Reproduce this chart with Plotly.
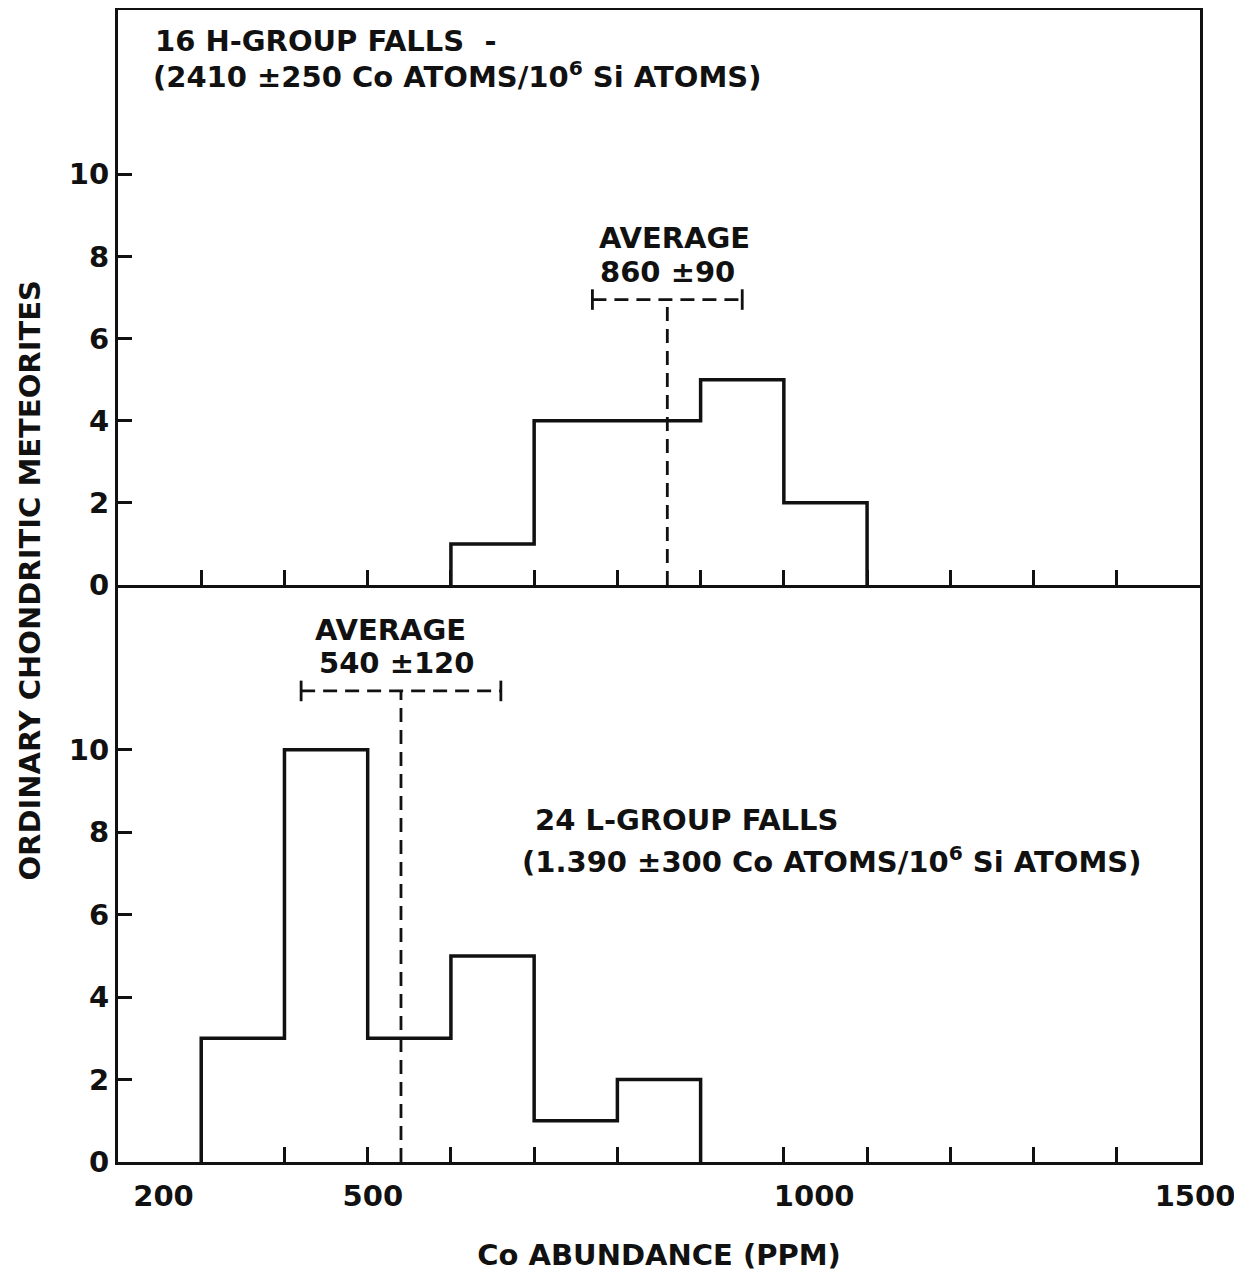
import plotly.graph_objects as go
from plotly.subplots import make_subplots

# ---- data ----
h_edges = [600, 700, 800, 900, 1000, 1100]
h_counts = [1, 4, 4, 5, 2]
l_edges = [300, 400, 500, 600, 700, 800, 900]
l_counts = [3, 10, 3, 5, 1, 2]

h_avg, h_err, h_avg_y = 860, 90, 6.95
l_avg, l_err, l_avg_y = 540, 120, 11.43

x_tick_vals = list(range(200, 1600, 100))
x_label_vals = [200, 500, 1000, 1500]
x_label_text = ["\u00a0" * 10 + "200", "\u00a0" * 2 + "500", "\u00a0" * 7 + "1000", "1500"]
y_tick_vals = [0, 2, 4, 6, 8, 10]

FONT = "DejaVu Sans"
INK = "#111111"

fig = make_subplots(rows=2, cols=1, shared_xaxes=True, vertical_spacing=0)


def step_xy(edges, counts):
    return [edges[0]] + list(edges), [0] + list(counts) + [0]


def add_panel(edges, counts, avg, err, avg_y, row):
    sx, sy = step_xy(edges, counts)
    fig.add_trace(go.Scatter(x=sx, y=sy, mode="lines", line_shape="hv",
                             line=dict(color=INK, width=3.5), showlegend=False,
                             hoverinfo="skip"), row=row, col=1)
    dash = "14px,8px"
    fig.add_trace(go.Scatter(x=[avg, avg], y=[0, avg_y], mode="lines",
                             line=dict(color=INK, width=2.8, dash=dash),
                             showlegend=False, hoverinfo="skip"), row=row, col=1)
    fig.add_trace(go.Scatter(x=[avg - err, avg + err], y=[avg_y, avg_y], mode="lines",
                             line=dict(color=INK, width=2.8, dash=dash),
                             showlegend=False, hoverinfo="skip"), row=row, col=1)
    cap = 0.25
    fig.add_trace(go.Scatter(x=[avg - err, avg - err, None, avg + err, avg + err],
                             y=[avg_y - cap, avg_y + cap, None, avg_y - cap, avg_y + cap],
                             mode="lines", line=dict(color=INK, width=2.8),
                             showlegend=False, hoverinfo="skip"), row=row, col=1)


add_panel(h_edges, h_counts, h_avg, h_err, h_avg_y, 1)
add_panel(l_edges, l_counts, l_avg, l_err, l_avg_y, 2)

# page has an 8px body margin; figure placed so the frame spans px 118..1200 x 10..1162
W, H = 1234, 1264
ML, MR, MT, MB = 110, 42, 2, 110
split = (1162 - 585) / (1162 - 10)

axis_common = dict(showline=True, linecolor=INK, linewidth=3,
                   showgrid=False, zeroline=False, ticks="inside",
                   tickcolor=INK, tickwidth=3, automargin=False)

tick_font = dict(family=FONT, size=29, color=INK, weight="bold")

fig.update_xaxes(range=[200, 1500], tickvals=x_label_vals, ticklen=15,
                 minor=dict(tickvals=x_tick_vals, ticks="inside", ticklen=15,
                            tickwidth=3, tickcolor=INK, showgrid=False),
                 **axis_common)
fig.update_xaxes(showticklabels=False, mirror=True, row=1, col=1)
fig.update_xaxes(row=2, col=1, showticklabels=True, mirror=False,
                 ticktext=x_label_text, ticklabelshift=-5,
                 tickfont=tick_font, ticklabelstandoff=6, ticklabeloverflow="allow",
                 title=dict(text="Co ABUNDANCE (PPM)", standoff=36,
                            font=dict(family=FONT, size=29, color=INK, weight="bold")))

fig.update_yaxes(range=[0, 14], tickvals=y_tick_vals, ticklen=14, mirror=True,
                 tickfont=tick_font, **axis_common)
fig.update_layout(yaxis=dict(domain=[split, 1]), yaxis2=dict(domain=[0, split]))

ann_font = dict(family=FONT, size=29, color=INK, weight="bold")
anns = [
    dict(x=242, y=13.25, xref="x", yref="y", text="16 H-GROUP FALLS  -", xanchor="left"),
    dict(x=240, y=12.42, xref="x", yref="y",
         text="(2410 ±250 Co ATOMS/10<sup>6</sup> Si ATOMS)", xanchor="left"),
    dict(x=869, y=8.45, xref="x", yref="y", text="AVERAGE", xanchor="center"),
    dict(x=h_avg, y=7.62, xref="x", yref="y", text=f"{h_avg} ±{h_err}", xanchor="center"),
    dict(x=527, y=12.9, xref="x2", yref="y2", text="AVERAGE", xanchor="center"),
    dict(x=l_avg - 5, y=12.1, xref="x2", yref="y2", text=f"{l_avg} ±{l_err}", xanchor="center"),
    dict(x=699, y=8.3, xref="x2", yref="y2", text="24 L-GROUP FALLS", xanchor="left"),
    dict(x=683, y=7.33, xref="x2", yref="y2",
         text="(1.390 ±300 Co ATOMS/10<sup>6</sup> Si ATOMS)", xanchor="left"),
    dict(x=-0.081, y=0.505, xref="paper", yref="paper", text="ORDINARY CHONDRITIC METEORITES",
         textangle=-90, xanchor="center", yanchor="middle"),
]
for a in anns:
    a.setdefault("yanchor", "middle")
    fig.add_annotation(showarrow=False, font=ann_font, **a)

fig.update_layout(width=W, height=H, plot_bgcolor="white", paper_bgcolor="white",
                  margin=dict(l=ML, r=MR, t=MT, b=MB, autoexpand=False), showlegend=False,
                  font=dict(family=FONT, color=INK))

fig.write_html("out.html")
